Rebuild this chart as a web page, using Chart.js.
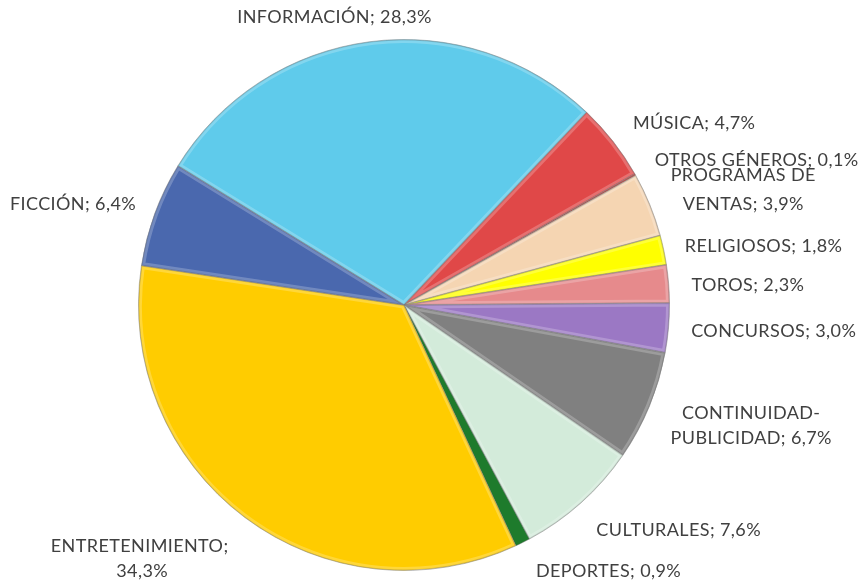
<!DOCTYPE html>
<html>
<head>
<meta charset="utf-8">
<script src="https://cdn.jsdelivr.net/npm/chart.js@4/dist/chart.umd.min.js"></script>
<style>
    html, body { margin: 0; padding: 0; background: #ffffff; }
    #wrap { width: 860px; height: 586px; position: relative; }
</style>
</head>
<body>
<div id="wrap"><canvas id="genreChart"></canvas></div>
<script>
var categories = [
    "INFORMACIÓN", "MÚSICA", "OTROS GÉNEROS", "PROGRAMAS DE\nVENTAS", "RELIGIOSOS", "TOROS",
    "CONCURSOS", "CONTINUIDAD-\nPUBLICIDAD", "CULTURALES", "DEPORTES", "ENTRETENIMIENTO", "FICCIÓN"
];
var shares = [28.3, 4.7, 0.1, 3.9, 1.8, 2.3, 3.0, 6.7, 7.6, 0.9, 34.3, 6.4];
var sliceColors = [
    "#5FCBEB", "#E04848", "#C0504D", "#F5D5B2", "#FFFF00", "#E68A8C",
    "#9B78C4", "#808080", "#D3EBDA", "#1E7B2C", "#FFCC00", "#4A68AE"
];

// label nudges (px), line height and whether the value goes on its own line
var labelLayout = [
    { dx: -21, dy: -2 }, { dx: 25, dy: -4 }, { dx: 24, dy: -3 }, { dx: 17, dy: 0, lh: 29 },
    { dx: 13, dy: 1 }, { dx: 13, dy: 3 }, { dx: 13, dy: 1 }, { dx: 18, dy: 6 },
    { dx: 36, dy: 11 }, { dx: 49, dy: 9 }, { dx: -42, dy: 13, brk: true }, { dx: -13, dy: -2 }
];

function fmt(v) {
    return v.toFixed(1).replace(".", ",") + "%";
}

var bevelPlugin = {
    id: "bevel",
    afterDatasetsDraw: function (chart) {
        var ctx = chart.ctx;
        chart.getDatasetMeta(0).data.forEach(function (arc) {
            var p = arc.getProps(["x", "y", "startAngle", "endAngle", "outerRadius"], true);
            if (p.endAngle - p.startAngle < 0.08) return;
            ctx.save();
            ctx.beginPath();
            ctx.moveTo(p.x, p.y);
            ctx.arc(p.x, p.y, p.outerRadius, p.startAngle, p.endAngle);
            ctx.closePath();
            ctx.clip();
            ctx.lineJoin = "round";
            ctx.lineWidth = 7;
            ctx.strokeStyle = "rgba(255,255,255,0.22)";
            ctx.stroke();
            ctx.lineWidth = 2;
            ctx.strokeStyle = "rgba(0,0,0,0.12)";
            ctx.stroke();
            ctx.restore();
        });
    }
};

var labelPlugin = {
    id: "outsideLabels",
    afterDraw: function (chart) {
        var ctx = chart.ctx;
        ctx.save();
        ctx.font = "18px Lato";
        ctx.letterSpacing = "0.4px";
        ctx.fillStyle = "#404040";
        ctx.textAlign = "center";
        ctx.textBaseline = "middle";
        chart.getDatasetMeta(0).data.forEach(function (arc, i) {
            var p = arc.getProps(["x", "y", "startAngle", "endAngle", "outerRadius"], true);
            var mid = (p.startAngle + p.endAngle) / 2;
            var ux = Math.cos(mid), uy = Math.sin(mid);
            var lay = labelLayout[i];
            var lineH = lay.lh || 25;
            var text = categories[i] + "; " + (lay.brk ? "\n" : "") + fmt(shares[i]);
            var lines = text.split("\n");
            var w = Math.max.apply(null, lines.map(function (l) { return ctx.measureText(l).width; }));
            var h = lines.length * lineH;
            var ax = p.x + (p.outerRadius + 10) * ux;
            var ay = p.y + (p.outerRadius + 10) * uy;
            var cx = ax + ux * w / 2 + lay.dx;
            var cy = ay + uy * h / 2 + lay.dy;
            lines.forEach(function (l, k) {
                ctx.fillText(l, cx, cy - h / 2 + lineH * (k + 0.5));
            });
        });
        ctx.restore();
    }
};

var ctx = document.getElementById("genreChart").getContext("2d");
new Chart(ctx, {
    type: "pie",
    data: {
        labels: categories,
        datasets: [{
            data: shares,
            backgroundColor: sliceColors,
            borderColor: "rgba(110,110,110,0.45)",
            borderWidth: 1
        }]
    },
    options: {
        responsive: true,
        maintainAspectRatio: false,
        animation: false,
        rotation: -58.4,
        layout: { padding: { top: 39, bottom: 15, left: 138, right: 190 } },
        plugins: {
            legend: { display: false },
            tooltip: { enabled: false }
        }
    },
    plugins: [bevelPlugin, labelPlugin]
});
</script>
</body>
</html>
